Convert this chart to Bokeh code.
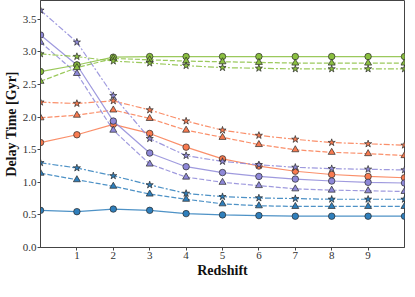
from bokeh.plotting import figure
from bokeh.models import Range1d, FixedTicker, NumeralTickFormatter, ColumnDataSource
from bokeh.embed import file_html
from bokeh.resources import INLINE

redshift = [0, 1, 2, 3, 4, 5, 6, 7, 8, 9, 10]

blue_solid = [0.57, 0.55, 0.59, 0.57, 0.52, 0.50, 0.49, 0.48, 0.48, 0.48, 0.48]
blue_dashed = [1.14, 1.04, 0.94, 0.82, 0.74, 0.67, 0.64, 0.63, 0.63, 0.63, 0.63]
blue_dashdot = [1.30, 1.22, 1.10, 0.96, 0.83, 0.78, 0.76, 0.75, 0.74, 0.74, 0.74]

orange_solid = [1.61, 1.73, 1.89, 1.75, 1.54, 1.36, 1.25, 1.17, 1.12, 1.09, 1.07]
orange_dashed = [1.99, 2.03, 2.11, 1.98, 1.80, 1.69, 1.58, 1.50, 1.46, 1.44, 1.41]
orange_dashdot = [2.23, 2.21, 2.25, 2.11, 1.94, 1.80, 1.72, 1.66, 1.61, 1.59, 1.57]

purple_solid = [3.26, 2.80, 1.94, 1.45, 1.24, 1.15, 1.09, 1.05, 1.02, 1.00, 0.99]
purple_dashed = [3.15, 2.67, 1.80, 1.28, 1.08, 1.00, 0.95, 0.90, 0.88, 0.87, 0.86]
purple_dashdot = [3.64, 3.15, 2.33, 1.67, 1.41, 1.32, 1.27, 1.23, 1.21, 1.20, 1.19]

green_solid = [2.70, 2.80, 2.92, 2.93, 2.93, 2.93, 2.93, 2.93, 2.93, 2.93, 2.93]
green_dashed = [2.55, 2.76, 2.90, 2.88, 2.86, 2.85, 2.84, 2.83, 2.83, 2.83, 2.83]
green_dashdot = [2.97, 2.93, 2.86, 2.83, 2.79, 2.76, 2.75, 2.74, 2.74, 2.74, 2.74]

x_ticks = [1, 2, 3, 4, 5, 6, 7, 8, 9]
y_ticks = [0.0, 0.5, 1.0, 1.5, 2.0, 2.5, 3.0, 3.5]

groups = [
    ("#2f7fbc", blue_solid, blue_dashed, blue_dashdot),
    ("#f97b50", orange_solid, orange_dashed, orange_dashdot),
    ("#8e88d8", purple_solid, purple_dashed, purple_dashdot),
    ("#8abf3f", green_solid, green_dashed, green_dashdot),
]

p = figure(frame_width=364, frame_height=247, x_range=Range1d(0, 10), y_range=Range1d(0, 3.79),
           output_backend="svg", toolbar_location=None,
           min_border_left=0, min_border_right=1, min_border_top=0, min_border_bottom=0)

p.xgrid.visible = False
p.ygrid.visible = False
p.outline_line_color = "#444444"
p.outline_line_width = 1
p.background_fill_color = "white"
p.border_fill_color = "white"

styles = [("solid", "circle", 6.5), ("5 2", "triangle", 7), ("6 2 2 2", "star", 7.5)]

for color, s, d, dd in groups:
    for (dash, marker, size), vals in zip(styles, [s, d, dd]):
        src = ColumnDataSource(dict(x=redshift, y=vals))
        p.line("x", "y", source=src, line_color=color, line_width=1.2, line_dash=dash, line_alpha=0.85)
        p.scatter("x", "y", source=src, marker=marker, size=size, fill_color=color,
                  line_color="#2a2a2a", line_width=0.7)

for ax in (p.xaxis[0], p.yaxis[0]):
    ax.axis_line_color = "#444444"
    ax.major_tick_line_color = "#444444"
    ax.major_tick_out = 3
    ax.major_tick_in = 0
    ax.minor_tick_out = 0
    ax.minor_tick_in = 0
    ax.major_label_text_font = "Liberation Serif"
    ax.major_label_text_font_size = "11px"
    ax.major_label_text_color = "#333333"
    ax.major_label_standoff = 1
    ax.axis_label_text_font = "Liberation Serif"
    ax.axis_label_text_font_style = "bold"
    ax.axis_label_text_font_size = "14px"
    ax.axis_label_text_color = "#111111"
    ax.axis_label_standoff = 1

p.xaxis.ticker = FixedTicker(ticks=x_ticks)
p.yaxis.ticker = FixedTicker(ticks=y_ticks)
p.yaxis.formatter = NumeralTickFormatter(format="0.0")
p.xaxis.axis_label = "Redshift"
p.yaxis.axis_label = "Delay Time [Gyr]"

open("out.html", "w").write(file_html(p, INLINE))
